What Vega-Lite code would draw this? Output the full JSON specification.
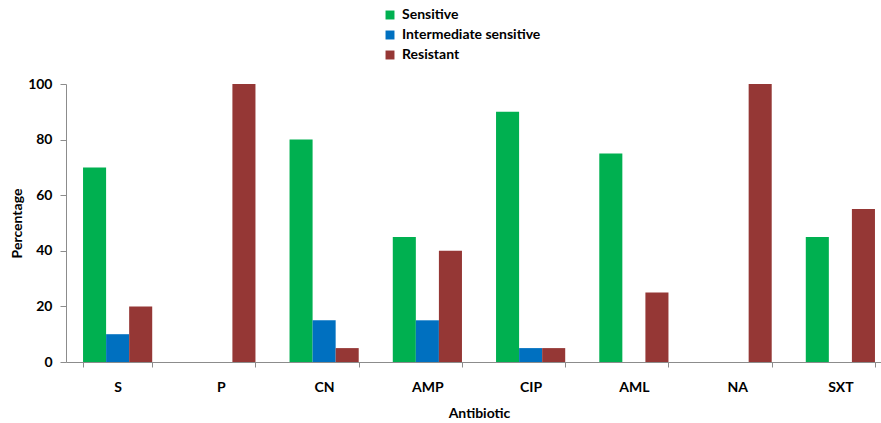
{
  "$schema": "https://vega.github.io/schema/vega-lite/v6.json",
  "width": 826,
  "height": 278,
  "autosize": {"type": "none"},
  "padding": {"left": 66, "top": 84, "right": 0, "bottom": 61},
  "background": "white",
  "config": {
    "view": {"stroke": null},
    "font": "Lato",
    "axis": {"grid": false, "domainColor": "#8c8c8c", "tickColor": "#8c8c8c", "labelFont": "Lato", "titleFont": "Lato", "labelFontWeight": "bold", "titleFontWeight": "bold", "labelFontSize": 14, "titleFontSize": 14, "labelColor": "black", "titleColor": "black"}
  },
  "data": {
    "values": [
      {"antibiotic": "S", "category": "Sensitive", "percentage": 70},
      {"antibiotic": "S", "category": "Intermediate sensitive", "percentage": 10},
      {"antibiotic": "S", "category": "Resistant", "percentage": 20},
      {"antibiotic": "P", "category": "Sensitive", "percentage": 0},
      {"antibiotic": "P", "category": "Intermediate sensitive", "percentage": 0},
      {"antibiotic": "P", "category": "Resistant", "percentage": 100},
      {"antibiotic": "CN", "category": "Sensitive", "percentage": 80},
      {"antibiotic": "CN", "category": "Intermediate sensitive", "percentage": 15},
      {"antibiotic": "CN", "category": "Resistant", "percentage": 5},
      {"antibiotic": "AMP", "category": "Sensitive", "percentage": 45},
      {"antibiotic": "AMP", "category": "Intermediate sensitive", "percentage": 15},
      {"antibiotic": "AMP", "category": "Resistant", "percentage": 40},
      {"antibiotic": "CIP", "category": "Sensitive", "percentage": 90},
      {"antibiotic": "CIP", "category": "Intermediate sensitive", "percentage": 5},
      {"antibiotic": "CIP", "category": "Resistant", "percentage": 5},
      {"antibiotic": "AML", "category": "Sensitive", "percentage": 75},
      {"antibiotic": "AML", "category": "Intermediate sensitive", "percentage": 0},
      {"antibiotic": "AML", "category": "Resistant", "percentage": 25},
      {"antibiotic": "NA", "category": "Sensitive", "percentage": 0},
      {"antibiotic": "NA", "category": "Intermediate sensitive", "percentage": 0},
      {"antibiotic": "NA", "category": "Resistant", "percentage": 100},
      {"antibiotic": "SXT", "category": "Sensitive", "percentage": 45},
      {"antibiotic": "SXT", "category": "Intermediate sensitive", "percentage": 0},
      {"antibiotic": "SXT", "category": "Resistant", "percentage": 55}
    ]
  },
  "mark": {"type": "bar"},
  "encoding": {
    "x": {
      "field": "antibiotic", "type": "nominal", "sort": null,
      "scale": {"paddingInner": 0.33, "paddingOuter": 0.165},
      "axis": {"title": "Antibiotic", "labelAngle": 0, "tickBand": "extent", "tickSize": 5, "labelPadding": 13, "titlePadding": 12}
    },
    "xOffset": {"field": "category", "type": "nominal", "sort": ["Sensitive", "Intermediate sensitive", "Resistant"], "scale": {"paddingInner": 0, "paddingOuter": 0}},
    "y": {
      "field": "percentage", "type": "quantitative",
      "scale": {"domain": [0, 100], "nice": false},
      "axis": {"title": "Percentage", "values": [0, 20, 40, 60, 80, 100], "tickSize": 6, "labelPadding": 8, "titlePadding": 3}
    },
    "color": {
      "field": "category", "type": "nominal",
      "sort": ["Sensitive", "Intermediate sensitive", "Resistant"],
      "scale": {"domain": ["Sensitive", "Intermediate sensitive", "Resistant"], "range": ["#00b050", "#0070c0", "#953735"]},
      "legend": {"title": null, "orient": "none", "legendX": 317, "legendY": -76, "symbolType": "square", "symbolSize": 80, "symbolStrokeWidth": 0, "labelFontSize": 14, "labelFontWeight": "bold", "labelFont": "Lato", "labelColor": "black", "rowPadding": 6, "labelOffset": 5}
    }
  }
}
